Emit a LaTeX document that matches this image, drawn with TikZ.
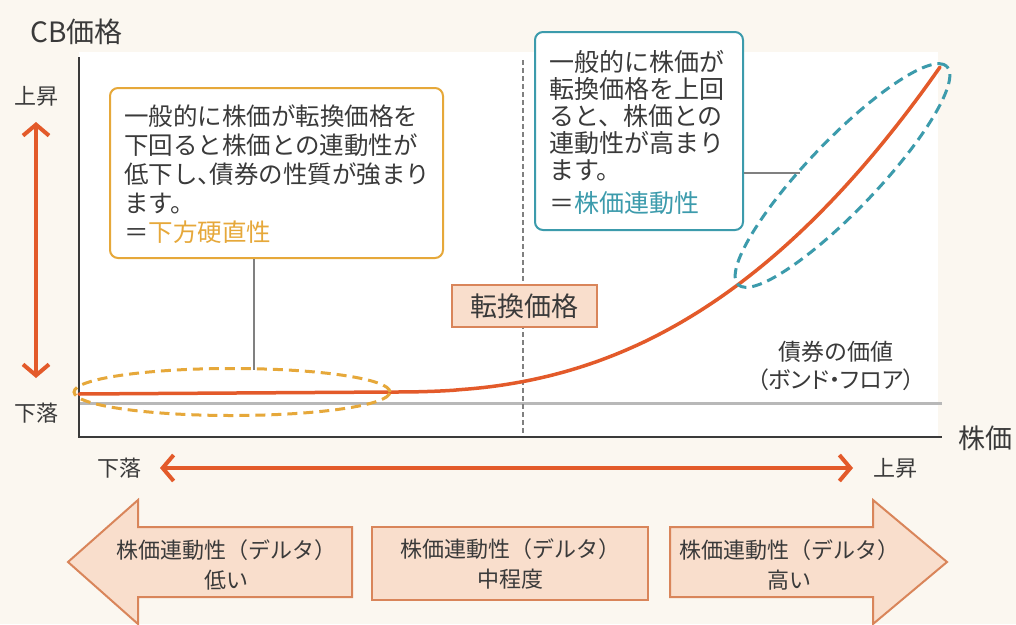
\documentclass[tikz,border=0pt]{standalone}
\usepackage{fontspec}
\setmainfont{Noto Sans CJK JP}
\newfontfamily\jpprop[RawFeature=+palt]{Noto Sans CJK JP}
\usetikzlibrary{arrows.meta,shapes.geometric}
\definecolor{bgcream}{HTML}{FBF7F0}
\definecolor{cbline}{HTML}{E35A2A}
\definecolor{goldc}{HTML}{E6A83A}
\definecolor{tealc}{HTML}{3C9BAC}
\definecolor{peach}{HTML}{F9DECC}
\definecolor{peachline}{HTML}{D9855A}
\definecolor{ink}{HTML}{3A3A3A}
\definecolor{floorgray}{HTML}{B8B8B8}
\tikzset{
  lbl/.style={text=ink, inner sep=0pt},
  notebox/.style={line width=2pt, rounded corners=8pt, fill=white},
  notetext/.style={lbl, anchor=north west, align=left},
  ringline/.style={ellipse, line width=3pt, dash pattern=on 10pt off 6pt, inner sep=0pt},
  darrow/.style={cbline, line width=4pt, {Straight Barb[length=11pt,width=26pt]}-{Straight Barb[length=11pt,width=26pt]}},
  deltabox/.style={fill=peach, draw=peachline, line width=2pt},
  leader/.style={draw=gray, line width=1.2pt}
}
\begin{document}
\begin{tikzpicture}[x=1pt,y=-1pt]
  \useasboundingbox[fill=bgcream] (0,0) rectangle (1016,624);
  \fill[white] (79,52) rectangle (938,437);

  \draw[floorgray, line width=3pt] (79,403) -- (942,403);
  \draw[gray, line width=1.2pt, dash pattern=on 5pt off 3pt] (523,60) -- (523,437);
  \coordinate (origin) at (79,437);
  \draw[ink, line width=2pt] (79,57) -- (origin) -- (942,437);

  \draw[cbline, line width=3.5pt, line cap=round, line join=round] (79,394) -- (392,392)
    -- plot[domain=392:940, samples=90, variable=\t] (\t, {392-325*((\t-390)/550)^2.42});

  \node[notebox, draw=goldc, minimum width=333pt, minimum height=170pt] (lownote) at (276.5,173) {};
  \node[notetext, font=\fontsize{24.5}{28.8}\selectfont] (lowtext) at (124,105)
    {一般的に株価が転換価格を\\下回ると株価との連動性が\\低下し{\jpprop 、}債券の性質が強まり\\ます。\\＝\textcolor{goldc}{下方硬直性}};
  \node[notebox, draw=tealc, minimum width=208pt, minimum height=198pt] (highnote) at (639,131) {};
  \node[notetext, font=\fontsize{25}{27}\selectfont] (hightext) at (549,50)
    {一般的に株価が\\転換価格を上回\\ると、株価との\\連動性が高まり\\ます。\\[6pt]＝\textcolor{tealc}{株価連動性}};

  \coordinate (lowtip) at (254,370);
  \coordinate (hightip) at (800,173);
  \draw[leader] (lownote.south -| lowtip) -- (lowtip);
  \draw[leader] (highnote.east |- hightip) -- (hightip);

  \node[ringline, draw=goldc, minimum width=316pt, minimum height=47pt] (lowring) at (232,392) {};
  \node[ringline, draw=tealc, minimum width=302pt, minimum height=70pt, rotate=46.3] (highring) at (842.5,175.5) {};

  \node[deltabox, minimum width=145pt, minimum height=42pt, text=ink, inner sep=0pt,
    font=\fontsize{27}{27}\selectfont] (convprice) at (524.5,306) {転換価格};

  \node[lbl, anchor=west, font=\fontsize{28}{28}\selectfont] (cbprice) at (30,32) {CB価格};
  \node[lbl, font=\fontsize{22}{22}\selectfont] (yup) at (36,96) {上昇};
  \node[lbl, font=\fontsize{22}{22}\selectfont] (ydown) at (36,413) {下落};
  \draw[darrow] (yup.south |- 0,122) -- (ydown.north |- 0,378);

  \node[lbl, font=\fontsize{27}{27}\selectfont] (stock) at (985,438) {株価};
  \node[lbl, align=center, font=\fontsize{23}{28}\selectfont] (floor) at (836,366)
    {債券の価値\\{\jpprop （ボンド・フロア）}};

  \node[lbl, font=\fontsize{22}{22}\selectfont] (xdown) at (119,468) {下落};
  \node[lbl, font=\fontsize{22}{22}\selectfont] (xup) at (895,468) {上昇};
  \draw[darrow] (xdown.east -| 160,0) -- (xup.west -| 853,0);

  \draw[deltabox] (68,562) -- (138,500) -- (138,527) -- (352,527) -- (352,597)
    -- (138,597) -- (138,624) -- cycle;
  \draw[deltabox] (670,527) -- (873,527) -- (873,500) -- (947,562) -- (873,624)
    -- (873,597) -- (670,597) -- cycle;
  \node[deltabox, minimum width=276pt, minimum height=73pt, inner sep=0pt] (middelta) at (510,563.5) {};

  \node[lbl, align=center, font=\fontsize{22}{30}\selectfont] (lowdelta) at (226,565) {株価連動性（デルタ）\\低い};
  \node[lbl, align=center, font=\fontsize{22}{30}\selectfont] (midtext) at (middelta) {株価連動性（デルタ）\\中程度};
  \node[lbl, align=center, font=\fontsize{22}{30}\selectfont] (highdelta) at (789,565) {株価連動性（デルタ）\\高い};
\end{tikzpicture}
\end{document}
